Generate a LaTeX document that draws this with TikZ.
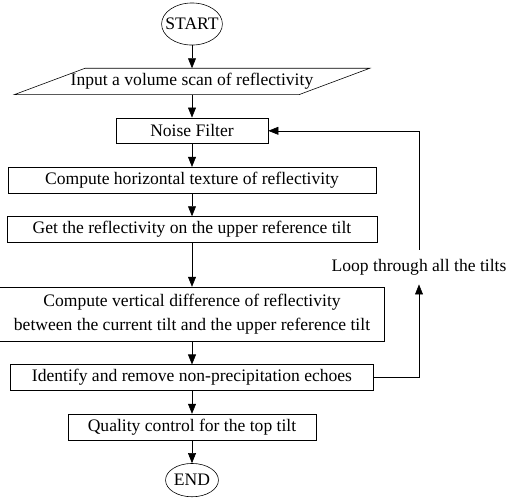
\documentclass[tikz,border=0pt]{standalone}
\usepackage{fontspec}
\setmainfont{Liberation Serif}
\usetikzlibrary{shapes.geometric,positioning,arrows.meta}
\begin{document}
	\begin{tikzpicture}
		[x=0.024cm, y=-0.024cm,
		every node/.style={font=\fontsize{12}{16.4}\selectfont,align=center,inner sep=0pt},
		node distance=0.55cm,
		term/.style={draw,ellipse},
		proc/.style={draw,rectangle,minimum height=0.62cm},
		io/.style={rectangle,minimum width=8.52cm,minimum height=0.62cm},
		flow/.style={-{Triangle[length=2.4mm,width=1.9mm]}},
		]

		\useasboundingbox (0,0) rectangle (510,499);

		\node[term,minimum width=1.46cm,minimum height=1.01cm,inner xsep=-1.5mm] (start) at (192,24) {START};
		\node[io,below=of start] (input) {Input a volume scan of reflectivity};
		\draw (input.south west) -- ([xshift=1.7cm]input.north west) -- (input.north east)
			-- ([xshift=-1.7cm]input.south east) -- cycle;
		\node[proc,below=of input,minimum width=3.65cm] (noise) {Noise Filter};
		\node[proc,below=of noise,minimum width=8.83cm] (texture) {Compute horizontal texture of reflectivity};
		\node[proc,below=of texture,minimum width=8.88cm] (upper) {Get the reflectivity on the upper reference tilt};
		\node[proc,below=1.06cm of upper,minimum width=9.24cm,minimum height=1.3cm] (vertdiff)
			{Compute vertical difference of reflectivity\\between the current tilt and the upper reference tilt};
		\node[proc,below=of vertdiff,minimum width=8.71cm] (remove) {Identify and remove non-precipitation echoes};
		\node[proc,below=of remove,minimum width=5.95cm] (quality) {Quality control for the top tilt};
		\node[term,below=of quality,minimum width=1.27cm,minimum height=0.8cm] (end) {END};

		\node[inner ysep=0.22cm] (loop) at (419,267) {Loop through all the tilts};

		\draw[flow] (start) -- (input);
		\draw[flow] (input) -- (noise);
		\draw[flow] (noise) -- (texture);
		\draw[flow] (texture) -- (upper);
		\draw[flow] (upper) -- (vertdiff);
		\draw[flow] (vertdiff) -- (remove);
		\draw[flow] (remove) -- (quality);
		\draw[flow] (quality) -- (end);
		\draw[flow] (remove.east) -| (loop.south);
		\draw[flow] (loop.north) |- (noise.east);
	\end{tikzpicture}
\end{document}
